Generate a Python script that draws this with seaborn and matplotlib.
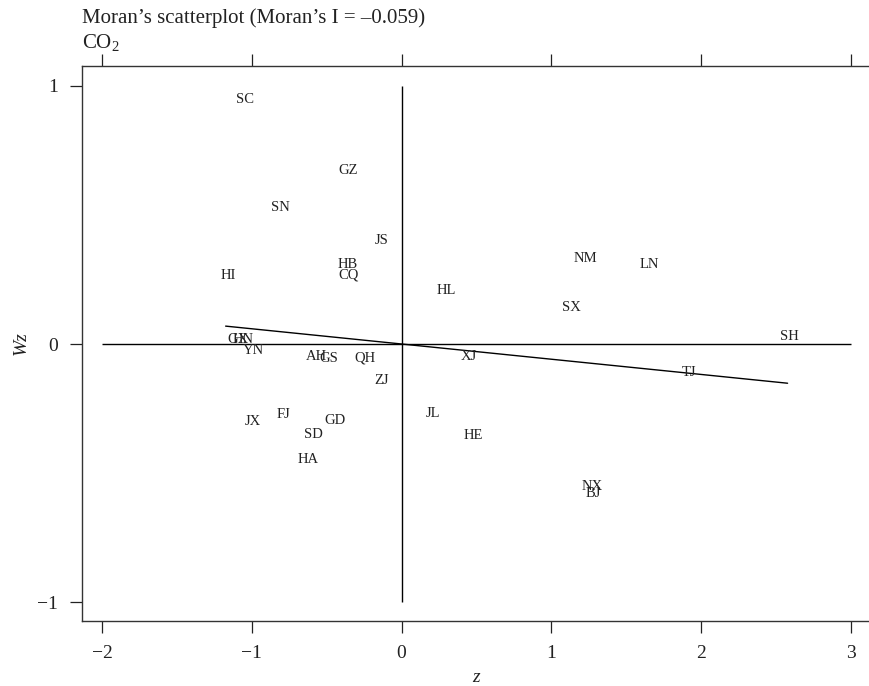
import numpy as np
import pandas as pd
import matplotlib
matplotlib.use("Agg")
import matplotlib.pyplot as plt
import seaborn as sns

# Province codes and Moran scatterplot coordinates (z, Wz)
provinces = ["SC", "GZ", "SN", "JS", "HB", "CQ", "HI", "HL", "NM", "LN", "SX", "SH",
             "GX", "HN", "YN", "AH", "GS", "QH", "ZJ", "XJ", "TJ", "JX", "FJ", "GD",
             "SD", "HA", "JL", "HE", "NX", "BJ"]
z_values = [-1.048, -0.354, -0.808, -0.134, -0.360, -0.354, -1.155, 0.300, 1.228, 1.656,
            1.135, 2.590, -1.095, -1.055, -0.988, -0.567, -0.487, -0.247, -0.134, 0.447,
            1.916, -0.995, -0.788, -0.447, -0.587, -0.627, 0.207, 0.481, 1.275, 1.282]
wz_values = [0.946, 0.671, 0.531, 0.403, 0.310, 0.267, 0.267, 0.209, 0.333, 0.310,
             0.140, 0.031, 0.016, 0.016, -0.027, -0.047, -0.058, -0.054, -0.140, -0.050,
             -0.112, -0.302, -0.275, -0.298, -0.349, -0.446, -0.271, -0.353, -0.554, -0.581]
moran_I = -0.059

x_ticks = [-2, -1, 0, 1, 2, 3]
y_ticks = [-1, 0, 1]
title_text = "Moran\u2019s scatterplot (Moran\u2019s I = \u20130.059)"
subtitle_text = r"CO$_2$"

df = pd.DataFrame({"province": provinces, "z": z_values, "Wz": wz_values})

sns.set_theme(style="ticks")
plt.rcParams["font.family"] = ["Liberation Serif", "DejaVu Serif"]
plt.rcParams["mathtext.fontset"] = "custom"
plt.rcParams["mathtext.rm"] = "Liberation Serif"
plt.rcParams["mathtext.it"] = "Liberation Serif:italic"

W, H = 869, 686
fig = plt.figure(figsize=(W / 100, H / 100), dpi=100)
ax = fig.add_axes([82 / W, (H - 621) / H, 789 / W, 555 / H])

# reference lines at 0 spanning the tick range
ax.hlines(0, x_ticks[0], x_ticks[-1], color="black", lw=1.0)
ax.vlines(0, y_ticks[0], y_ticks[-1], color="black", lw=1.0)

# Moran's I slope line across the range of z
zr = np.array([df["z"].min() - 0.02, df["z"].max() - 0.013])
line_df = pd.DataFrame({"z": zr, "Wz": moran_I * zr})
sns.lineplot(data=line_df, x="z", y="Wz", color="black", lw=1.0, ax=ax)

for p, xv, yv in zip(df["province"], df["z"], df["Wz"]):
    ax.text(xv, yv, p, ha="center", va="center", fontsize=10.5, color="#222222")

ax.set_xlim(-2.134, 3.134)
ax.set_ylim(-1.0736, 1.0775)
ax.set_xticks(x_ticks)
ax.set_yticks(y_ticks)
ax.tick_params(axis="both", direction="out", length=8.5, width=0.9, pad=9,
               labelsize=14, colors="#222222",
               top=True, right=True, labeltop=False, labelright=False)
for s in ax.spines.values():
    s.set_visible(True)
    s.set_linewidth(1.0)
    s.set_color("#333333")
ax.set_xlabel("z", fontsize=14, style="italic", labelpad=5, color="#222222")
ax.set_ylabel("Wz", fontsize=14, style="italic", labelpad=5, color="#222222")

fig.text(82 / W, 1 - 23 / H, title_text, ha="left", va="baseline", fontsize=15, color="#222222")
fig.text(82 / W, 1 - 48 / H, subtitle_text, ha="left", va="baseline", fontsize=15, color="#222222")

fig.savefig("out.png", dpi=100)
